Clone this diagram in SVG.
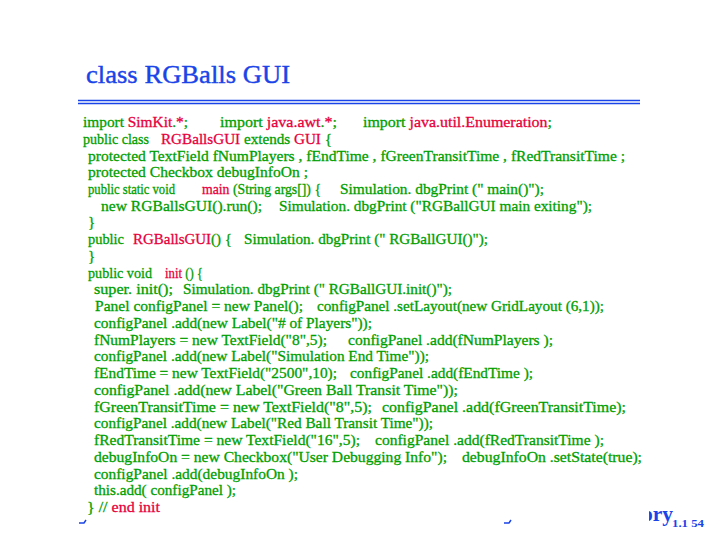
<svg xmlns="http://www.w3.org/2000/svg" width="719" height="539" viewBox="0 0 719 539">
<style>
.t{font-family:"Liberation Serif","DejaVu Serif",serif;font-size:26px;fill:#1a44e8;stroke:#1a44e8;stroke-width:0.4}
.c{font-family:"Liberation Serif","DejaVu Serif",serif;font-size:15px;fill:#00a000;stroke:#00a000;stroke-width:0.3}
.r{fill:#e8003c;stroke:#e8003c}
.f{font-family:"Liberation Serif","DejaVu Serif",serif;font-weight:bold;fill:#1a44e8}
.rule{stroke:#1a44e8;stroke-width:1.3}
</style>
<defs>
<clipPath id="clipOry"><rect x="649" y="495" width="40" height="35"/></clipPath>
</defs>
<rect width="719" height="539" fill="#ffffff"/>
<g id="title">
<text class="t" x="86" y="83" textLength="204" lengthAdjust="spacingAndGlyphs">class RGBalls GUI</text>
<line class="rule" x1="78" y1="100.5" x2="640" y2="100.5"/>
<line class="rule" x1="78" y1="103.5" x2="640" y2="103.5"/>
</g>
<g id="code">
<text class="c" x="83" y="127" textLength="105" lengthAdjust="spacingAndGlyphs">import <tspan class="r">SimKit</tspan>.<tspan class="r">*</tspan>;</text>
<text class="c" x="220" y="127" textLength="117" lengthAdjust="spacingAndGlyphs">import <tspan class="r">java.awt</tspan>.<tspan class="r">*</tspan>;</text>
<text class="c" x="363" y="127" textLength="189" lengthAdjust="spacingAndGlyphs">import <tspan class="r">java.util.Enumeration</tspan>;</text>

<text class="c" x="83" y="143.7" textLength="66" lengthAdjust="spacingAndGlyphs">public class</text>
<text class="c" x="161" y="143.7" textLength="171" lengthAdjust="spacingAndGlyphs"><tspan class="r">RGBallsGUI</tspan> extends <tspan class="r">GUI</tspan> {</text>

<text class="c" x="88" y="160.5" textLength="537" lengthAdjust="spacingAndGlyphs">protected TextField fNumPlayers , fEndTime , fGreenTransitTime , fRedTransitTime ;</text>
<text class="c" x="88" y="177.2" textLength="220" lengthAdjust="spacingAndGlyphs">protected Checkbox debugInfoOn ;</text>

<text class="c" x="88" y="194" textLength="87" lengthAdjust="spacingAndGlyphs">public static void</text>
<text class="c" x="202" y="194" textLength="119" lengthAdjust="spacingAndGlyphs"><tspan class="r">main</tspan> (String args[]) {</text>
<text class="c" x="340" y="194" textLength="204" lengthAdjust="spacingAndGlyphs">Simulation. dbgPrint (" main()");</text>

<text class="c" x="101" y="210.7" textLength="161" lengthAdjust="spacingAndGlyphs">new  RGBallsGUI().run();</text>
<text class="c" x="279" y="210.7" textLength="313" lengthAdjust="spacingAndGlyphs">Simulation. dbgPrint ("RGBallGUI main exiting");</text>

<text class="c" x="88" y="227.4">}</text>

<text class="c" x="88" y="244.2" textLength="36" lengthAdjust="spacingAndGlyphs">public</text>
<text class="c" x="133" y="244.2" textLength="99" lengthAdjust="spacingAndGlyphs"><tspan class="r">RGBallsGUI</tspan>() {</text>
<text class="c" x="244" y="244.2" textLength="244" lengthAdjust="spacingAndGlyphs">Simulation. dbgPrint (" RGBallGUI()");</text>

<text class="c" x="88" y="260.9">}</text>

<text class="c" x="88" y="277.7" textLength="64" lengthAdjust="spacingAndGlyphs">public void</text>
<text class="c" x="165" y="277.7" textLength="38" lengthAdjust="spacingAndGlyphs"><tspan class="r">init</tspan> () {</text>

<text class="c" x="94" y="294.4" textLength="79" lengthAdjust="spacingAndGlyphs">super. init();</text>
<text class="c" x="183" y="294.4" textLength="269" lengthAdjust="spacingAndGlyphs">Simulation. dbgPrint (" RGBallGUI.init()");</text>

<text class="c" x="95" y="311.1" textLength="208" lengthAdjust="spacingAndGlyphs">Panel configPanel  = new Panel();</text>
<text class="c" x="317" y="311.1" textLength="287" lengthAdjust="spacingAndGlyphs">configPanel .setLayout(new GridLayout (6,1));</text>

<text class="c" x="94" y="327.9" textLength="278" lengthAdjust="spacingAndGlyphs">configPanel .add(new Label("# of Players"));</text>

<text class="c" x="94" y="344.6" textLength="233" lengthAdjust="spacingAndGlyphs">fNumPlayers  = new TextField("8",5);</text>
<text class="c" x="348" y="344.6" textLength="205" lengthAdjust="spacingAndGlyphs">configPanel  .add(fNumPlayers );</text>

<text class="c" x="94" y="361.4" textLength="335" lengthAdjust="spacingAndGlyphs">configPanel .add(new Label("Simulation End Time"));</text>

<text class="c" x="94" y="378.1" textLength="243" lengthAdjust="spacingAndGlyphs">fEndTime  = new TextField("2500",10);</text>
<text class="c" x="350" y="378.1" textLength="183" lengthAdjust="spacingAndGlyphs">configPanel  .add(fEndTime );</text>

<text class="c" x="94" y="394.8" textLength="364" lengthAdjust="spacingAndGlyphs">configPanel .add(new Label("Green Ball Transit Time"));</text>

<text class="c" x="94" y="411.6" textLength="278" lengthAdjust="spacingAndGlyphs">fGreenTransitTime  = new TextField("8",5);</text>
<text class="c" x="382" y="411.6" textLength="244" lengthAdjust="spacingAndGlyphs">configPanel  .add(fGreenTransitTime);</text>

<text class="c" x="94" y="428.3" textLength="339" lengthAdjust="spacingAndGlyphs">configPanel .add(new Label("Red Ball Transit Time"));</text>

<text class="c" x="94" y="445.1" textLength="266" lengthAdjust="spacingAndGlyphs">fRedTransitTime  = new TextField("16",5);</text>
<text class="c" x="375" y="445.1" textLength="229" lengthAdjust="spacingAndGlyphs">configPanel  .add(fRedTransitTime );</text>

<text class="c" x="94" y="461.8" textLength="353" lengthAdjust="spacingAndGlyphs">debugInfoOn  = new Checkbox("User Debugging Info");</text>
<text class="c" x="462" y="461.8" textLength="180" lengthAdjust="spacingAndGlyphs">debugInfoOn  .setState(true);</text>

<text class="c" x="94" y="478.5" textLength="204" lengthAdjust="spacingAndGlyphs">configPanel .add(debugInfoOn );</text>
<text class="c" x="94" y="495.3" textLength="142" lengthAdjust="spacingAndGlyphs">this.add( configPanel );</text>
<text class="c" x="87" y="512" textLength="73" lengthAdjust="spacingAndGlyphs">}  // <tspan class="r">end init</tspan></text>
</g>
<g id="footer">
<path d="M79 523 L84 523 L86 520" fill="none" stroke="#1a44e8" stroke-width="1.5"/>
<path d="M504 523 L509 523 L511 520" fill="none" stroke="#1a44e8" stroke-width="1.5"/>
<g clip-path="url(#clipOry)">
<text class="f" x="642" y="521" font-size="20" textLength="31" lengthAdjust="spacingAndGlyphs">ory</text>
</g>
<text class="f" x="672" y="527" font-size="11" textLength="32" lengthAdjust="spacingAndGlyphs">1.1  54</text>
</g>
</svg>
